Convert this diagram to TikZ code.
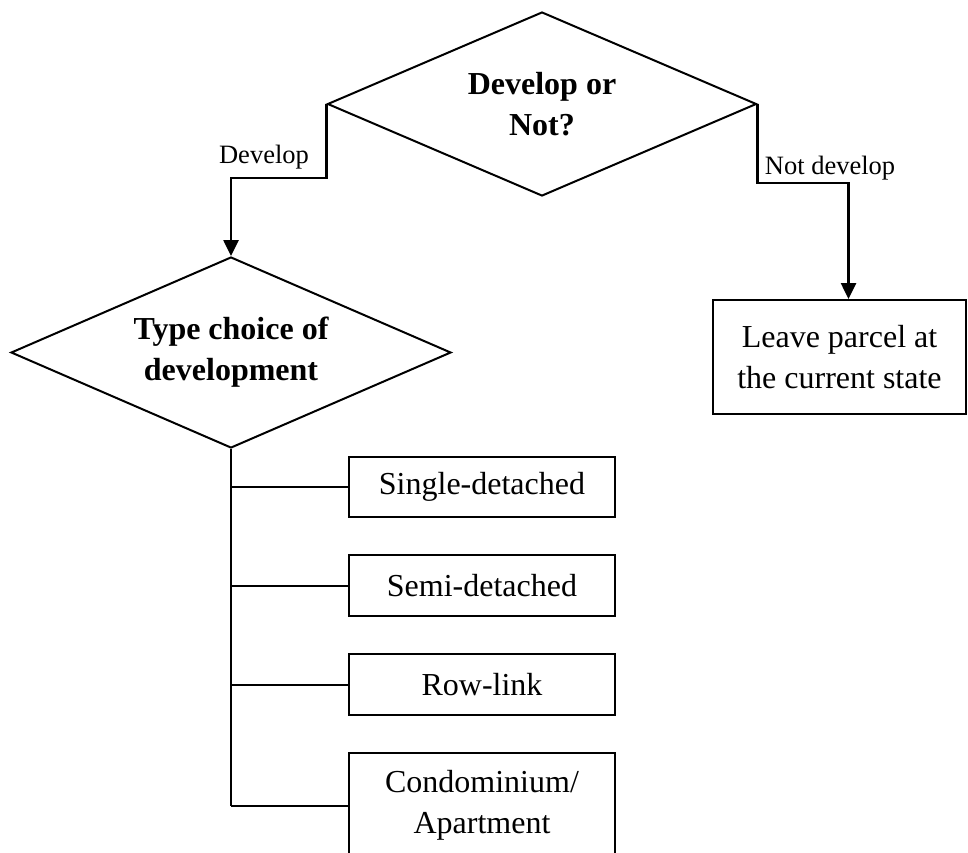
\documentclass[tikz,border=0pt]{standalone}
\usepackage{fontspec}
\setmainfont{Liberation Serif}
\usetikzlibrary{arrows.meta,positioning,shapes.geometric}

\begin{document}
\begin{tikzpicture}[x=1pt, y=1pt,
  decision/.style={draw, diamond, aspect=2.3, line width=2pt, inner sep=0pt, align=center,
    font=\fontsize{32}{41}\selectfont\bfseries},
  optbox/.style={draw, rectangle, line width=2pt, inner sep=0pt, align=center,
    font=\fontsize{32}{41}\selectfont},
  flow/.style={line width=2.6pt, -{Triangle[length=16pt,width=15pt]}},
  branch/.style={line width=2pt},
  lbl/.style={font=\fontsize{26.5}{30}\selectfont, inner sep=0pt}]
\useasboundingbox (0,0) rectangle (968,-852);
% ================= first decision =================
\node[decision, minimum width=429pt, minimum height=184pt] (dev) at (542,-104)
  {Develop or\\Not?};
\node[optbox, minimum width=253pt, minimum height=114pt] (leave) at (839.5,-357)
  {Leave parcel at\\the current state};
% ================= type of development =================
\node[decision, minimum width=440pt, minimum height=191pt] (type) at (231,-352.5)
  {Type choice of\\development};
\node[optbox, minimum width=266pt, minimum height=60pt] (single) at (482,-487) {Single-detached};
\node[optbox, minimum width=266pt, minimum height=61pt] (semi) at (482,-585.5) {Semi-detached};
\node[optbox, minimum width=266pt, minimum height=61pt] (row) at (482,-684.5) {Row-link};
\node[optbox, minimum width=266pt, minimum height=105pt] (condo) at (482,-805.5)
  {Condominium/\\Apartment};
% branch labels
\node[lbl] (ldev) at (264,-157) {Develop};
\node[lbl] (lnot) at (830,-168) {Not develop};
% ================= connectors =================
\draw[flow] (dev.west) -- ++(0,-74) -| (type.north);
\draw[flow] (dev.east) -- ++(0,-79) -| ([xshift=9pt]leave.north);
\draw[branch] (type.south) -- (type.south |- condo.west);
\foreach \b in {single,semi,row,condo}{
  \draw[branch] (type.south |- \b.west) -- (\b.west);
}
\end{tikzpicture}
\end{document}
